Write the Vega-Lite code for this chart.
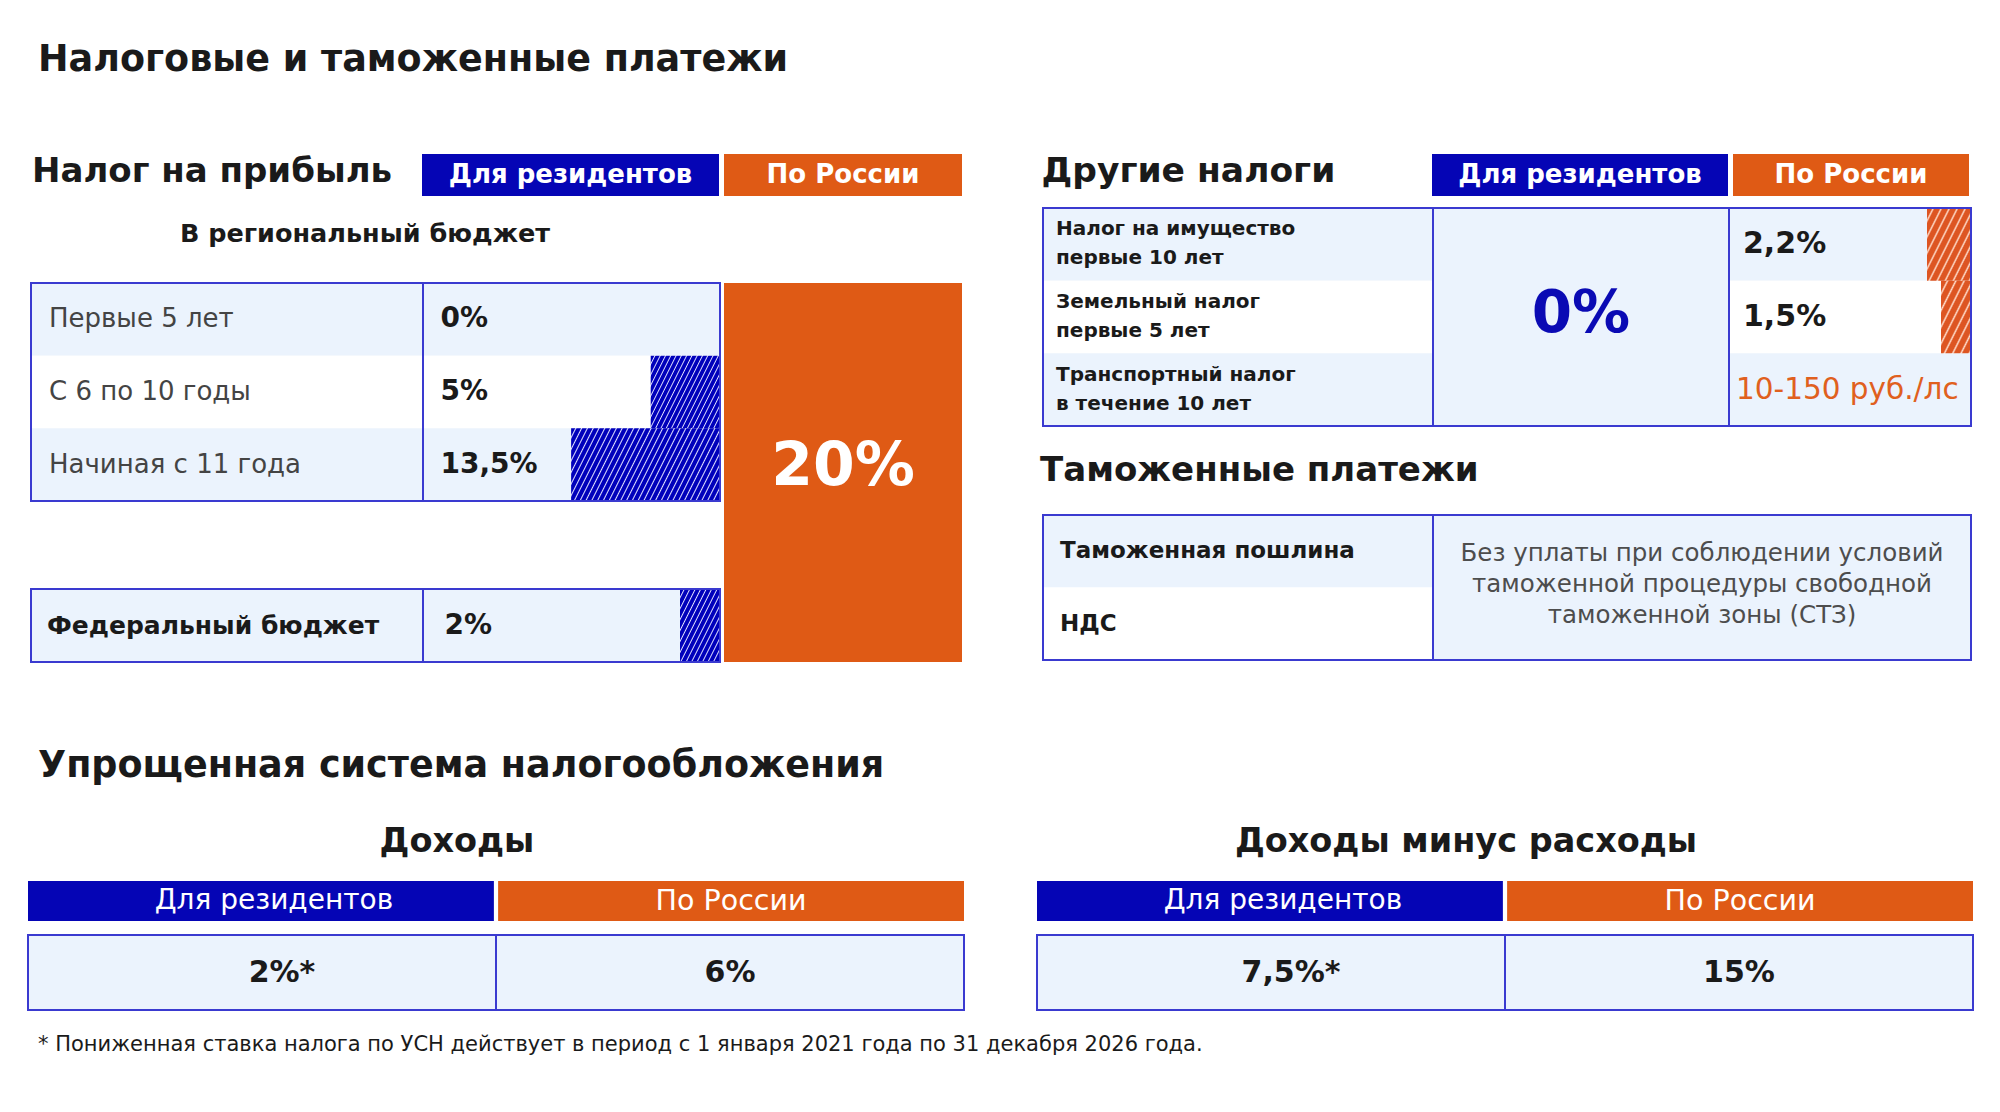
{
"$schema": "https://vega.github.io/schema/vega-lite/v6.json",
"background": "white",
"padding": 0,
"spacing": 0,
"config": {"view": {"stroke": null}, "font": "DejaVu Sans"},
"datasets": {
  "profitRegional": [
    {"period": "Первые 5 лет", "rate": 0, "label": "0%"},
    {"period": "С 6 по 10 годы", "rate": 5, "label": "5%"},
    {"period": "Начиная с 11 года", "rate": 13.5, "label": "13,5%"}
  ],
  "profitFederal": [{"period": "Федеральный бюджет", "rate": 2, "label": "2%"}],
  "profitRussia": [{"rate": 20, "label": "20%"}],
  "otherTaxes": [
    {"tax": "Налог на имущество", "term": "первые 10 лет", "resident": 0, "russia": 2.2, "russiaLabel": "2,2%"},
    {"tax": "Земельный налог", "term": "первые 5 лет", "resident": 0, "russia": 1.5, "russiaLabel": "1,5%"},
    {"tax": "Транспортный налог", "term": "в течение 10 лет", "resident": 0, "russia": null, "russiaLabel": "10-150 руб./лс"}
  ],
  "customs": [{"payment": "Таможенная пошлина"}, {"payment": "НДС"}],
  "customsNote": [{"note": "Без уплаты при соблюдении условий\nтаможенной процедуры свободной\nтаможенной зоны (СТЗ)"}],
  "usn": [
    {"regime": "Доходы", "group": "Для резидентов", "label": "2%*"},
    {"regime": "Доходы", "group": "По России", "label": "6%"},
    {"regime": "Доходы минус расходы", "group": "Для резидентов", "label": "7,5%*"},
    {"regime": "Доходы минус расходы", "group": "По России", "label": "15%"}
  ]
},
"vconcat": [
  {"width": 2000, "height": 154, "data": {"values": [{"t": "Налоговые и таможенные платежи"}]},
   "mark": {"type": "text", "align": "left", "dx": -962, "dy": -17, "fontSize": 36.5, "fontWeight": "bold", "color": "#1a1a1a"},
   "encoding": {"text": {"field": "t"}}},
  {"hconcat": [
    {"vconcat": [
      {"hconcat": [
        {"width": 422, "height": 42, "data": {"values": [{"t": "Налог на прибыль"}]},
         "mark": {"type": "text", "align": "left", "dx": -179, "dy": -3, "fontSize": 34, "fontWeight": "bold", "color": "#1a1a1a"},
         "encoding": {"text": {"field": "t"}}},
        {"width": 297, "height": 42, "view": {"fill": "#0505b5"}, "data": {"values": [{"t": "Для резидентов"}]},
         "mark": {"type": "text", "fontSize": 26, "fontWeight": "bold", "color": "#ffffff"},
         "encoding": {"text": {"field": "t"}}},
        {"width": 5, "height": 42, "data": {"values": []}, "mark": "point"},
        {"width": 238, "height": 42, "view": {"fill": "#df5a15"}, "data": {"values": [{"t": "По России"}]},
         "mark": {"type": "text", "fontSize": 26, "fontWeight": "bold", "color": "#ffffff"},
         "encoding": {"text": {"field": "t"}}}
      ], "spacing": 0, "bounds": "flush"},
      {"width": 730, "height": 86, "data": {"values": [{"t": "В региональный бюджет"}]},
       "mark": {"type": "text", "dy": -5, "fontSize": 25.5, "fontWeight": "bold", "color": "#1a1a1a"},
       "encoding": {"text": {"field": "t"}}},
      {"hconcat": [
        {"width": 30, "height": 379, "data": {"values": []}, "mark": "point"},
        {"vconcat": [
          {"hconcat": [
            {"width": 392, "height": 218, "data": {"name": "profitRegional"}, "layer": [
              {"mark": {"type": "rect"}, "encoding": {
                "y": {"field": "period", "type": "nominal", "scale": {"domain": ["Первые 5 лет", "С 6 по 10 годы", "Начиная с 11 года"], "paddingInner": 0, "paddingOuter": 0}, "axis": null},
                "color": {"condition": {"test": "datum.period === 'С 6 по 10 годы'", "value": "#ffffff"}, "value": "#ebf3fd"}}},
              {"mark": {"type": "text", "align": "left", "dx": -178, "fontSize": 26, "color": "#444444"}, "encoding": {
                "y": {"field": "period", "type": "nominal", "scale": {"domain": ["Первые 5 лет", "С 6 по 10 годы", "Начиная с 11 года"], "paddingInner": 0, "paddingOuter": 0}, "axis": null},
                "text": {"field": "period"}}},
              {"data": {"values": [{}]}, "mark": {"type": "rect", "fillOpacity": 0, "stroke": "#3a3ad0", "strokeWidth": 2}, "encoding": {}}
            ]},
            {"width": 297, "height": 218, "data": {"name": "profitRegional"}, "layer": [
              {"mark": {"type": "rect"}, "encoding": {
                "y": {"field": "period", "type": "nominal", "scale": {"domain": ["Первые 5 лет", "С 6 по 10 годы", "Начиная с 11 года"], "paddingInner": 0, "paddingOuter": 0}, "axis": null},
                "color": {"condition": {"test": "datum.period === 'С 6 по 10 годы'", "value": "#ffffff"}, "value": "#ebf3fd"}}},
              {"transform": [{"filter": "datum.rate === 5"}],
               "mark": {"type": "bar", "fill": {"gradient": "linear", "x1": 0, "y1": 0, "x2": 1.196, "y2": 0.627, "stops": [
                 {"offset": 0, "color": "#00b"}, {"offset": 0.03, "color": "#00b"}, {"offset": 0.04, "color": "#ddf"},
                 {"offset": 0.05, "color": "#00b"}, {"offset": 0.08, "color": "#00b"}, {"offset": 0.09, "color": "#ddf"},
                 {"offset": 0.1, "color": "#00b"}, {"offset": 0.13, "color": "#00b"}, {"offset": 0.14, "color": "#ddf"},
                 {"offset": 0.15, "color": "#00b"}, {"offset": 0.18, "color": "#00b"}, {"offset": 0.19, "color": "#ddf"},
                 {"offset": 0.2, "color": "#00b"}, {"offset": 0.23, "color": "#00b"}, {"offset": 0.24, "color": "#ddf"},
                 {"offset": 0.25, "color": "#00b"}, {"offset": 0.28, "color": "#00b"}, {"offset": 0.29, "color": "#ddf"},
                 {"offset": 0.3, "color": "#00b"}, {"offset": 0.33, "color": "#00b"}, {"offset": 0.34, "color": "#ddf"},
                 {"offset": 0.35, "color": "#00b"}, {"offset": 0.38, "color": "#00b"}, {"offset": 0.39, "color": "#ddf"},
                 {"offset": 0.4, "color": "#00b"}, {"offset": 0.43, "color": "#00b"}, {"offset": 0.44, "color": "#ddf"},
                 {"offset": 0.45, "color": "#00b"}, {"offset": 0.48, "color": "#00b"}, {"offset": 0.49, "color": "#ddf"},
                 {"offset": 0.5, "color": "#00b"}, {"offset": 0.53, "color": "#00b"}, {"offset": 0.54, "color": "#ddf"},
                 {"offset": 0.55, "color": "#00b"}, {"offset": 0.58, "color": "#00b"}, {"offset": 0.59, "color": "#ddf"},
                 {"offset": 0.6, "color": "#00b"}, {"offset": 0.63, "color": "#00b"}, {"offset": 0.64, "color": "#ddf"},
                 {"offset": 0.65, "color": "#00b"}, {"offset": 0.68, "color": "#00b"}, {"offset": 0.69, "color": "#ddf"},
                 {"offset": 0.7, "color": "#00b"}, {"offset": 0.73, "color": "#00b"}, {"offset": 0.74, "color": "#ddf"},
                 {"offset": 0.75, "color": "#00b"}, {"offset": 0.78, "color": "#00b"}, {"offset": 0.79, "color": "#ddf"},
                 {"offset": 0.8, "color": "#00b"}, {"offset": 0.83, "color": "#00b"}, {"offset": 0.84, "color": "#ddf"},
                 {"offset": 0.85, "color": "#00b"}, {"offset": 0.88, "color": "#00b"}, {"offset": 0.89, "color": "#ddf"},
                 {"offset": 0.9, "color": "#00b"}, {"offset": 0.93, "color": "#00b"}, {"offset": 0.94, "color": "#ddf"},
                 {"offset": 0.95, "color": "#00b"}, {"offset": 0.98, "color": "#00b"}, {"offset": 0.99, "color": "#ddf"},
                 {"offset": 1, "color": "#00b"}]}},
               "encoding": {
                 "y": {"field": "period", "type": "nominal", "scale": {"domain": ["Первые 5 лет", "С 6 по 10 годы", "Начиная с 11 года"], "paddingInner": 0, "paddingOuter": 0}, "axis": null},
                 "x": {"field": "rate", "type": "quantitative", "scale": {"type": "pow", "exponent": 0.77, "domain": [0, 33.1], "nice": false, "reverse": true}, "axis": null}}},
              {"transform": [{"filter": "datum.rate === 13.5"}],
               "mark": {"type": "bar", "fill": {"gradient": "linear", "x1": 0, "y1": 0, "x2": 1.175, "y2": 0.287, "stops": [
                 {"offset": 0, "color": "#00b"}, {"offset": 0.0188, "color": "#00b"}, {"offset": 0.025, "color": "#ddf"},
                 {"offset": 0.0313, "color": "#00b"}, {"offset": 0.05, "color": "#00b"}, {"offset": 0.0563, "color": "#ddf"},
                 {"offset": 0.0625, "color": "#00b"}, {"offset": 0.0813, "color": "#00b"}, {"offset": 0.0875, "color": "#ddf"},
                 {"offset": 0.0938, "color": "#00b"}, {"offset": 0.1125, "color": "#00b"}, {"offset": 0.1188, "color": "#ddf"},
                 {"offset": 0.125, "color": "#00b"}, {"offset": 0.1438, "color": "#00b"}, {"offset": 0.15, "color": "#ddf"},
                 {"offset": 0.1563, "color": "#00b"}, {"offset": 0.175, "color": "#00b"}, {"offset": 0.1813, "color": "#ddf"},
                 {"offset": 0.1875, "color": "#00b"}, {"offset": 0.2063, "color": "#00b"}, {"offset": 0.2125, "color": "#ddf"},
                 {"offset": 0.2188, "color": "#00b"}, {"offset": 0.2375, "color": "#00b"}, {"offset": 0.2438, "color": "#ddf"},
                 {"offset": 0.25, "color": "#00b"}, {"offset": 0.2688, "color": "#00b"}, {"offset": 0.275, "color": "#ddf"},
                 {"offset": 0.2813, "color": "#00b"}, {"offset": 0.3, "color": "#00b"}, {"offset": 0.3063, "color": "#ddf"},
                 {"offset": 0.3125, "color": "#00b"}, {"offset": 0.3313, "color": "#00b"}, {"offset": 0.3375, "color": "#ddf"},
                 {"offset": 0.3438, "color": "#00b"}, {"offset": 0.3625, "color": "#00b"}, {"offset": 0.3688, "color": "#ddf"},
                 {"offset": 0.375, "color": "#00b"}, {"offset": 0.3938, "color": "#00b"}, {"offset": 0.4, "color": "#ddf"},
                 {"offset": 0.4063, "color": "#00b"}, {"offset": 0.425, "color": "#00b"}, {"offset": 0.4313, "color": "#ddf"},
                 {"offset": 0.4375, "color": "#00b"}, {"offset": 0.4563, "color": "#00b"}, {"offset": 0.4625, "color": "#ddf"},
                 {"offset": 0.4688, "color": "#00b"}, {"offset": 0.4875, "color": "#00b"}, {"offset": 0.4938, "color": "#ddf"},
                 {"offset": 0.5, "color": "#00b"}, {"offset": 0.5188, "color": "#00b"}, {"offset": 0.525, "color": "#ddf"},
                 {"offset": 0.5313, "color": "#00b"}, {"offset": 0.55, "color": "#00b"}, {"offset": 0.5563, "color": "#ddf"},
                 {"offset": 0.5625, "color": "#00b"}, {"offset": 0.5813, "color": "#00b"}, {"offset": 0.5875, "color": "#ddf"},
                 {"offset": 0.5938, "color": "#00b"}, {"offset": 0.6125, "color": "#00b"}, {"offset": 0.6188, "color": "#ddf"},
                 {"offset": 0.625, "color": "#00b"}, {"offset": 0.6438, "color": "#00b"}, {"offset": 0.65, "color": "#ddf"},
                 {"offset": 0.6563, "color": "#00b"}, {"offset": 0.675, "color": "#00b"}, {"offset": 0.6813, "color": "#ddf"},
                 {"offset": 0.6875, "color": "#00b"}, {"offset": 0.7063, "color": "#00b"}, {"offset": 0.7125, "color": "#ddf"},
                 {"offset": 0.7188, "color": "#00b"}, {"offset": 0.7375, "color": "#00b"}, {"offset": 0.7438, "color": "#ddf"},
                 {"offset": 0.75, "color": "#00b"}, {"offset": 0.7688, "color": "#00b"}, {"offset": 0.775, "color": "#ddf"},
                 {"offset": 0.7813, "color": "#00b"}, {"offset": 0.8, "color": "#00b"}, {"offset": 0.8063, "color": "#ddf"},
                 {"offset": 0.8125, "color": "#00b"}, {"offset": 0.8313, "color": "#00b"}, {"offset": 0.8375, "color": "#ddf"},
                 {"offset": 0.8438, "color": "#00b"}, {"offset": 0.8625, "color": "#00b"}, {"offset": 0.8688, "color": "#ddf"},
                 {"offset": 0.875, "color": "#00b"}, {"offset": 0.8938, "color": "#00b"}, {"offset": 0.9, "color": "#ddf"},
                 {"offset": 0.9063, "color": "#00b"}, {"offset": 0.925, "color": "#00b"}, {"offset": 0.9313, "color": "#ddf"},
                 {"offset": 0.9375, "color": "#00b"}, {"offset": 0.9563, "color": "#00b"}, {"offset": 0.9625, "color": "#ddf"},
                 {"offset": 0.9688, "color": "#00b"}, {"offset": 0.9875, "color": "#00b"}, {"offset": 0.9938, "color": "#ddf"},
                 {"offset": 1, "color": "#00b"}]}},
               "encoding": {
                 "y": {"field": "period", "type": "nominal", "scale": {"domain": ["Первые 5 лет", "С 6 по 10 годы", "Начиная с 11 года"], "paddingInner": 0, "paddingOuter": 0}, "axis": null},
                 "x": {"field": "rate", "type": "quantitative", "scale": {"type": "pow", "exponent": 0.77, "domain": [0, 33.1], "nice": false, "reverse": true}, "axis": null}}},
              {"mark": {"type": "text", "align": "left", "dx": -131, "fontSize": 28, "fontWeight": "bold", "color": "#1a1a1a"}, "encoding": {
                "y": {"field": "period", "type": "nominal", "scale": {"domain": ["Первые 5 лет", "С 6 по 10 годы", "Начиная с 11 года"], "paddingInner": 0, "paddingOuter": 0}, "axis": null},
                "text": {"field": "label"}}},
              {"data": {"values": [{}]}, "mark": {"type": "rect", "fillOpacity": 0, "stroke": "#3a3ad0", "strokeWidth": 2}, "encoding": {}}
            ]}
          ], "spacing": 0, "bounds": "flush"},
          {"width": 689, "height": 86, "data": {"values": []}, "mark": "point"},
          {"hconcat": [
            {"width": 392, "height": 73, "data": {"name": "profitFederal"}, "layer": [
              {"mark": {"type": "rect", "fill": "#ebf3fd"}, "encoding": {
                "y": {"field": "period", "type": "nominal", "scale": {"paddingInner": 0, "paddingOuter": 0}, "axis": null}}},
              {"mark": {"type": "text", "align": "left", "dx": -180, "fontSize": 25, "fontWeight": "bold", "color": "#1a1a1a"}, "encoding": {
                "y": {"field": "period", "type": "nominal", "scale": {"paddingInner": 0, "paddingOuter": 0}, "axis": null},
                "text": {"field": "period"}}},
              {"data": {"values": [{}]}, "mark": {"type": "rect", "fillOpacity": 0, "stroke": "#3a3ad0", "strokeWidth": 2}, "encoding": {}}
            ]},
            {"width": 297, "height": 73, "data": {"name": "profitFederal"}, "layer": [
              {"mark": {"type": "rect", "fill": "#ebf3fd"}, "encoding": {
                "y": {"field": "period", "type": "nominal", "scale": {"paddingInner": 0, "paddingOuter": 0}, "axis": null}}},
              {"mark": {"type": "bar", "fill": {"gradient": "linear", "x1": 0, "y1": 0, "x2": 1.043, "y2": 0.952, "stops": [
                 {"offset": 0, "color": "#00b"}, {"offset": 0.0429, "color": "#00b"}, {"offset": 0.0571, "color": "#ddf"},
                 {"offset": 0.0714, "color": "#00b"}, {"offset": 0.1143, "color": "#00b"}, {"offset": 0.1286, "color": "#ddf"},
                 {"offset": 0.1429, "color": "#00b"}, {"offset": 0.1857, "color": "#00b"}, {"offset": 0.2, "color": "#ddf"},
                 {"offset": 0.2143, "color": "#00b"}, {"offset": 0.2571, "color": "#00b"}, {"offset": 0.2714, "color": "#ddf"},
                 {"offset": 0.2857, "color": "#00b"}, {"offset": 0.3286, "color": "#00b"}, {"offset": 0.3429, "color": "#ddf"},
                 {"offset": 0.3571, "color": "#00b"}, {"offset": 0.4, "color": "#00b"}, {"offset": 0.4143, "color": "#ddf"},
                 {"offset": 0.4286, "color": "#00b"}, {"offset": 0.4714, "color": "#00b"}, {"offset": 0.4857, "color": "#ddf"},
                 {"offset": 0.5, "color": "#00b"}, {"offset": 0.5429, "color": "#00b"}, {"offset": 0.5571, "color": "#ddf"},
                 {"offset": 0.5714, "color": "#00b"}, {"offset": 0.6143, "color": "#00b"}, {"offset": 0.6286, "color": "#ddf"},
                 {"offset": 0.6429, "color": "#00b"}, {"offset": 0.6857, "color": "#00b"}, {"offset": 0.7, "color": "#ddf"},
                 {"offset": 0.7143, "color": "#00b"}, {"offset": 0.7571, "color": "#00b"}, {"offset": 0.7714, "color": "#ddf"},
                 {"offset": 0.7857, "color": "#00b"}, {"offset": 0.8286, "color": "#00b"}, {"offset": 0.8429, "color": "#ddf"},
                 {"offset": 0.8571, "color": "#00b"}, {"offset": 0.9, "color": "#00b"}, {"offset": 0.9143, "color": "#ddf"},
                 {"offset": 0.9286, "color": "#00b"}, {"offset": 0.9714, "color": "#00b"}, {"offset": 0.9857, "color": "#ddf"},
                 {"offset": 1, "color": "#00b"}]}},
               "encoding": {
                 "y": {"field": "period", "type": "nominal", "scale": {"paddingInner": 0, "paddingOuter": 0}, "axis": null},
                 "x": {"field": "rate", "type": "quantitative", "scale": {"domain": [0, 14.85], "nice": false, "reverse": true}, "axis": null}}},
              {"mark": {"type": "text", "align": "left", "dx": -127, "fontSize": 28, "fontWeight": "bold", "color": "#1a1a1a"}, "encoding": {
                "y": {"field": "period", "type": "nominal", "scale": {"paddingInner": 0, "paddingOuter": 0}, "axis": null},
                "text": {"field": "label"}}},
              {"data": {"values": [{}]}, "mark": {"type": "rect", "fillOpacity": 0, "stroke": "#3a3ad0", "strokeWidth": 2}, "encoding": {}}
            ]}
          ], "spacing": 0, "bounds": "flush"}
        ], "spacing": 0},
        {"width": 3, "height": 379, "data": {"values": []}, "mark": "point"},
        {"width": 238, "height": 379, "view": {"fill": "#df5a15"}, "data": {"name": "profitRussia"},
         "mark": {"type": "text", "dy": -6, "fontSize": 60, "fontWeight": "bold", "color": "#ffffff"},
         "encoding": {"text": {"field": "label"}}}
      ], "spacing": 0}
    ], "spacing": 0},
    {"vconcat": [
      {"hconcat": [
        {"width": 391, "height": 42, "data": {"values": [{"t": "Другие налоги"}]},
         "mark": {"type": "text", "align": "left", "dx": -195, "dy": -3, "fontSize": 34.5, "fontWeight": "bold", "color": "#1a1a1a"},
         "encoding": {"text": {"field": "t"}}},
        {"width": 296, "height": 42, "view": {"fill": "#0505b5"}, "data": {"values": [{"t": "Для резидентов"}]},
         "mark": {"type": "text", "fontSize": 26, "fontWeight": "bold", "color": "#ffffff"},
         "encoding": {"text": {"field": "t"}}},
        {"width": 5, "height": 42, "data": {"values": []}, "mark": "point"},
        {"width": 236, "height": 42, "view": {"fill": "#df5a15"}, "data": {"values": [{"t": "По России"}]},
         "mark": {"type": "text", "fontSize": 26, "fontWeight": "bold", "color": "#ffffff"},
         "encoding": {"text": {"field": "t"}}}
      ], "spacing": 0, "bounds": "flush"},
      {"width": 930, "height": 11, "data": {"values": []}, "mark": "point"},
      {"hconcat": [
        {"width": 2, "height": 218, "data": {"values": []}, "mark": "point"},
        {"width": 390, "height": 218, "data": {"name": "otherTaxes"}, "layer": [
          {"mark": {"type": "rect"}, "encoding": {
            "y": {"field": "tax", "type": "nominal", "scale": {"domain": ["Налог на имущество", "Земельный налог", "Транспортный налог"], "paddingInner": 0, "paddingOuter": 0}, "axis": null},
            "color": {"condition": {"test": "datum.tax === 'Земельный налог'", "value": "#ffffff"}, "value": "#ebf3fd"}}},
          {"mark": {"type": "text", "align": "left", "dx": -182, "dy": -15, "fontSize": 20, "fontWeight": "bold", "color": "#1a1a1a"}, "encoding": {
            "y": {"field": "tax", "type": "nominal", "scale": {"domain": ["Налог на имущество", "Земельный налог", "Транспортный налог"], "paddingInner": 0, "paddingOuter": 0}, "axis": null},
            "text": {"field": "tax"}}},
          {"mark": {"type": "text", "align": "left", "dx": -182, "dy": 14, "fontSize": 20, "fontWeight": "bold", "color": "#1a1a1a"}, "encoding": {
            "y": {"field": "tax", "type": "nominal", "scale": {"domain": ["Налог на имущество", "Земельный налог", "Транспортный налог"], "paddingInner": 0, "paddingOuter": 0}, "axis": null},
            "text": {"field": "term"}}},
          {"data": {"values": [{}]}, "mark": {"type": "rect", "fillOpacity": 0, "stroke": "#3a3ad0", "strokeWidth": 2}, "encoding": {}}
        ]},
        {"width": 296, "height": 218, "data": {"name": "otherTaxes"}, "layer": [
          {"data": {"values": [{}]}, "mark": {"type": "rect", "fill": "#ebf3fd"}, "encoding": {}},
          {"transform": [{"aggregate": [{"op": "max", "field": "resident", "as": "resident"}]}],
           "mark": {"type": "text", "dy": -2, "fontSize": 58, "fontWeight": "bold", "color": "#0a0ab4"},
           "encoding": {"text": {"field": "resident", "type": "quantitative", "format": ".0%"}}},
          {"data": {"values": [{}]}, "mark": {"type": "rect", "fillOpacity": 0, "stroke": "#3a3ad0", "strokeWidth": 2}, "encoding": {}}
        ]},
        {"width": 242, "height": 218, "data": {"name": "otherTaxes"}, "layer": [
          {"mark": {"type": "rect"}, "encoding": {
            "y": {"field": "tax", "type": "nominal", "scale": {"domain": ["Налог на имущество", "Земельный налог", "Транспортный налог"], "paddingInner": 0, "paddingOuter": 0}, "axis": null},
            "color": {"condition": {"test": "datum.tax === 'Земельный налог'", "value": "#ffffff"}, "value": "#ebf3fd"}}},
          {"transform": [{"filter": "datum.tax === 'Налог на имущество'"}],
           "mark": {"type": "bar", "fill": {"gradient": "linear", "x1": 0, "y1": 0, "x2": 1.085, "y2": 0.896, "stops": [
             {"offset": 0, "color": "#d52"}, {"offset": 0.06, "color": "#d52"}, {"offset": 0.08, "color": "#fdc"},
             {"offset": 0.1, "color": "#d52"}, {"offset": 0.16, "color": "#d52"}, {"offset": 0.18, "color": "#fdc"},
             {"offset": 0.2, "color": "#d52"}, {"offset": 0.26, "color": "#d52"}, {"offset": 0.28, "color": "#fdc"},
             {"offset": 0.3, "color": "#d52"}, {"offset": 0.36, "color": "#d52"}, {"offset": 0.38, "color": "#fdc"},
             {"offset": 0.4, "color": "#d52"}, {"offset": 0.46, "color": "#d52"}, {"offset": 0.48, "color": "#fdc"},
             {"offset": 0.5, "color": "#d52"}, {"offset": 0.56, "color": "#d52"}, {"offset": 0.58, "color": "#fdc"},
             {"offset": 0.6, "color": "#d52"}, {"offset": 0.66, "color": "#d52"}, {"offset": 0.68, "color": "#fdc"},
             {"offset": 0.7, "color": "#d52"}, {"offset": 0.76, "color": "#d52"}, {"offset": 0.78, "color": "#fdc"},
             {"offset": 0.8, "color": "#d52"}, {"offset": 0.86, "color": "#d52"}, {"offset": 0.88, "color": "#fdc"},
             {"offset": 0.9, "color": "#d52"}, {"offset": 0.96, "color": "#d52"}, {"offset": 0.98, "color": "#fdc"},
             {"offset": 1, "color": "#d52"}]}},
           "encoding": {
             "y": {"field": "tax", "type": "nominal", "scale": {"domain": ["Налог на имущество", "Земельный налог", "Транспортный налог"], "paddingInner": 0, "paddingOuter": 0}, "axis": null},
             "x": {"field": "russia", "type": "quantitative", "scale": {"domain": [0, 12.1], "nice": false, "reverse": true}, "axis": null}}},
          {"transform": [{"filter": "datum.tax === 'Земельный налог'"}],
           "mark": {"type": "bar", "fill": {"gradient": "linear", "x1": 0, "y1": 0, "x2": 0.896, "y2": 1.086, "stops": [
             {"offset": 0, "color": "#d52"}, {"offset": 0.075, "color": "#d52"}, {"offset": 0.1, "color": "#fdc"},
             {"offset": 0.125, "color": "#d52"}, {"offset": 0.2, "color": "#d52"}, {"offset": 0.225, "color": "#fdc"},
             {"offset": 0.25, "color": "#d52"}, {"offset": 0.325, "color": "#d52"}, {"offset": 0.35, "color": "#fdc"},
             {"offset": 0.375, "color": "#d52"}, {"offset": 0.45, "color": "#d52"}, {"offset": 0.475, "color": "#fdc"},
             {"offset": 0.5, "color": "#d52"}, {"offset": 0.575, "color": "#d52"}, {"offset": 0.6, "color": "#fdc"},
             {"offset": 0.625, "color": "#d52"}, {"offset": 0.7, "color": "#d52"}, {"offset": 0.725, "color": "#fdc"},
             {"offset": 0.75, "color": "#d52"}, {"offset": 0.825, "color": "#d52"}, {"offset": 0.85, "color": "#fdc"},
             {"offset": 0.875, "color": "#d52"}, {"offset": 0.95, "color": "#d52"}, {"offset": 0.975, "color": "#fdc"},
             {"offset": 1, "color": "#d52"}]}},
           "encoding": {
             "y": {"field": "tax", "type": "nominal", "scale": {"domain": ["Налог на имущество", "Земельный налог", "Транспортный налог"], "paddingInner": 0, "paddingOuter": 0}, "axis": null},
             "x": {"field": "russia", "type": "quantitative", "scale": {"domain": [0, 12.1], "nice": false, "reverse": true}, "axis": null}}},
          {"transform": [{"filter": "datum.russia != null"}],
           "mark": {"type": "text", "align": "left", "dx": -107, "fontSize": 30, "fontWeight": "bold", "color": "#1a1a1a"}, "encoding": {
            "y": {"field": "tax", "type": "nominal", "scale": {"domain": ["Налог на имущество", "Земельный налог", "Транспортный налог"], "paddingInner": 0, "paddingOuter": 0}, "axis": null},
            "text": {"field": "russiaLabel"}}},
          {"transform": [{"filter": "datum.russia == null"}],
           "mark": {"type": "text", "align": "left", "dx": -114, "fontSize": 29.5, "color": "#e0601e"}, "encoding": {
            "y": {"field": "tax", "type": "nominal", "scale": {"domain": ["Налог на имущество", "Земельный налог", "Транспортный налог"], "paddingInner": 0, "paddingOuter": 0}, "axis": null},
            "text": {"field": "russiaLabel"}}},
          {"data": {"values": [{}]}, "mark": {"type": "rect", "fillOpacity": 0, "stroke": "#3a3ad0", "strokeWidth": 2}, "encoding": {}}
        ]}
      ], "spacing": 0, "bounds": "flush"},
      {"width": 930, "height": 87, "data": {"values": [{"t": "Таможенные платежи"}]},
       "mark": {"type": "text", "align": "left", "dx": -466, "fontSize": 34, "fontWeight": "bold", "color": "#1a1a1a"},
       "encoding": {"text": {"field": "t"}}},
      {"hconcat": [
        {"width": 2, "height": 145, "data": {"values": []}, "mark": "point"},
        {"width": 390, "height": 145, "data": {"name": "customs"}, "layer": [
          {"mark": {"type": "rect"}, "encoding": {
            "y": {"field": "payment", "type": "nominal", "scale": {"domain": ["Таможенная пошлина", "НДС"], "paddingInner": 0, "paddingOuter": 0}, "axis": null},
            "color": {"condition": {"test": "datum.payment === 'НДС'", "value": "#ffffff"}, "value": "#ebf3fd"}}},
          {"mark": {"type": "text", "align": "left", "dx": -178, "fontSize": 23, "fontWeight": "bold", "color": "#1a1a1a"}, "encoding": {
            "y": {"field": "payment", "type": "nominal", "scale": {"domain": ["Таможенная пошлина", "НДС"], "paddingInner": 0, "paddingOuter": 0}, "axis": null},
            "text": {"field": "payment"}}},
          {"data": {"values": [{}]}, "mark": {"type": "rect", "fillOpacity": 0, "stroke": "#3a3ad0", "strokeWidth": 2}, "encoding": {}}
        ]},
        {"width": 538, "height": 145, "data": {"name": "customsNote"}, "layer": [
          {"mark": {"type": "rect", "fill": "#ebf3fd"}, "encoding": {}},
          {"mark": {"type": "text", "lineBreak": "\n", "lineHeight": 31, "dy": -34, "fontSize": 24.5, "color": "#4d4d4d"}, "encoding": {"text": {"field": "note"}}},
          {"mark": {"type": "rect", "fillOpacity": 0, "stroke": "#3a3ad0", "strokeWidth": 2}, "encoding": {}}
        ]}
      ], "spacing": 0, "bounds": "flush"}
    ], "spacing": 0}
  ], "spacing": 78},
  {"vconcat": [
    {"width": 2000, "height": 132, "data": {"values": [{"t": "Упрощенная система налогообложения"}]},
     "mark": {"type": "text", "align": "left", "dx": -962, "dy": 37, "fontSize": 36.5, "fontWeight": "bold", "color": "#1a1a1a"},
     "encoding": {"text": {"field": "t"}}},
    {"hconcat": [
      {"width": 28, "height": 86, "data": {"values": []}, "mark": "point"},
      {"width": 936, "height": 86, "data": {"name": "usn"}, "transform": [{"filter": "datum.regime === 'Доходы' && datum.group === 'По России'"}],
       "mark": {"type": "text", "dx": -39, "dy": 4, "fontSize": 33.5, "fontWeight": "bold", "color": "#1a1a1a"},
       "encoding": {"text": {"field": "regime"}}},
      {"width": 73, "height": 86, "data": {"values": []}, "mark": "point"},
      {"width": 936, "height": 86, "data": {"name": "usn"}, "transform": [{"filter": "datum.regime === 'Доходы минус расходы' && datum.group === 'По России'"}],
       "mark": {"type": "text", "dx": -39, "dy": 4, "fontSize": 33.5, "fontWeight": "bold", "color": "#1a1a1a"},
       "encoding": {"text": {"field": "regime"}}}
    ], "spacing": 0, "bounds": "flush"},
    {"hconcat": [
      {"width": 28, "height": 40, "data": {"values": []}, "mark": "point"},
      {"width": 936, "height": 40, "data": {"name": "usn"}, "transform": [{"filter": "datum.regime === 'Доходы'"}], "layer": [
        {"mark": {"type": "rect"}, "encoding": {
          "x": {"field": "group", "type": "nominal", "scale": {"domain": ["Для резидентов", "По России"], "paddingInner": 0.009, "paddingOuter": 0}, "axis": null},
          "color": {"field": "group", "type": "nominal", "scale": {"domain": ["Для резидентов", "По России"], "range": ["#0505b5", "#df5a15"]}, "legend": null}}},
        {"transform": [{"filter": "datum.group === 'Для резидентов'"}], "mark": {"type": "text", "dx": 13, "fontSize": 28, "color": "#ffffff"}, "encoding": {
          "x": {"field": "group", "type": "nominal", "scale": {"domain": ["Для резидентов", "По России"], "paddingInner": 0.009, "paddingOuter": 0}, "axis": null},
          "text": {"field": "group"}}},
        {"transform": [{"filter": "datum.group === 'По России'"}], "mark": {"type": "text", "fontSize": 28.5, "color": "#ffffff"}, "encoding": {
          "x": {"field": "group", "type": "nominal", "scale": {"domain": ["Для резидентов", "По России"], "paddingInner": 0.009, "paddingOuter": 0}, "axis": null},
          "text": {"field": "group"}}}
      ]},
      {"width": 73, "height": 40, "data": {"values": []}, "mark": "point"},
      {"width": 936, "height": 40, "data": {"name": "usn"}, "transform": [{"filter": "datum.regime === 'Доходы минус расходы'"}], "layer": [
        {"mark": {"type": "rect"}, "encoding": {
          "x": {"field": "group", "type": "nominal", "scale": {"domain": ["Для резидентов", "По России"], "paddingInner": 0.009, "paddingOuter": 0}, "axis": null},
          "color": {"field": "group", "type": "nominal", "scale": {"domain": ["Для резидентов", "По России"], "range": ["#0505b5", "#df5a15"]}, "legend": null}}},
        {"transform": [{"filter": "datum.group === 'Для резидентов'"}], "mark": {"type": "text", "dx": 13, "fontSize": 28, "color": "#ffffff"}, "encoding": {
          "x": {"field": "group", "type": "nominal", "scale": {"domain": ["Для резидентов", "По России"], "paddingInner": 0.009, "paddingOuter": 0}, "axis": null},
          "text": {"field": "group"}}},
        {"transform": [{"filter": "datum.group === 'По России'"}], "mark": {"type": "text", "fontSize": 28.5, "color": "#ffffff"}, "encoding": {
          "x": {"field": "group", "type": "nominal", "scale": {"domain": ["Для резидентов", "По России"], "paddingInner": 0.009, "paddingOuter": 0}, "axis": null},
          "text": {"field": "group"}}}
      ]}
    ], "spacing": 0, "bounds": "flush"},
    {"width": 2000, "height": 13, "data": {"values": []}, "mark": "point"},
    {"hconcat": [
      {"width": 28, "height": 75, "data": {"values": []}, "mark": "point"},
      {"width": 936, "height": 75, "data": {"name": "usn"}, "transform": [{"filter": "datum.regime === 'Доходы'"}], "layer": [
        {"mark": {"type": "rect", "fill": "#ebf3fd", "stroke": "#3a3ad0", "strokeWidth": 2}, "encoding": {
          "x": {"field": "group", "type": "nominal", "scale": {"domain": ["Для резидентов", "По России"], "paddingInner": 0, "paddingOuter": 0}, "axis": null}}},
        {"transform": [{"filter": "datum.group === 'Для резидентов'"}], "mark": {"type": "text", "dx": 20, "fontSize": 30, "fontWeight": "bold", "color": "#1a1a1a"}, "encoding": {
          "x": {"field": "group", "type": "nominal", "scale": {"domain": ["Для резидентов", "По России"], "paddingInner": 0, "paddingOuter": 0}, "axis": null},
          "text": {"field": "label"}}},
        {"transform": [{"filter": "datum.group === 'По России'"}], "mark": {"type": "text", "fontSize": 30, "fontWeight": "bold", "color": "#1a1a1a"}, "encoding": {
          "x": {"field": "group", "type": "nominal", "scale": {"domain": ["Для резидентов", "По России"], "paddingInner": 0, "paddingOuter": 0}, "axis": null},
          "text": {"field": "label"}}}
      ]},
      {"width": 73, "height": 75, "data": {"values": []}, "mark": "point"},
      {"width": 936, "height": 75, "data": {"name": "usn"}, "transform": [{"filter": "datum.regime === 'Доходы минус расходы'"}], "layer": [
        {"mark": {"type": "rect", "fill": "#ebf3fd", "stroke": "#3a3ad0", "strokeWidth": 2}, "encoding": {
          "x": {"field": "group", "type": "nominal", "scale": {"domain": ["Для резидентов", "По России"], "paddingInner": 0, "paddingOuter": 0}, "axis": null}}},
        {"transform": [{"filter": "datum.group === 'Для резидентов'"}], "mark": {"type": "text", "dx": 20, "fontSize": 30, "fontWeight": "bold", "color": "#1a1a1a"}, "encoding": {
          "x": {"field": "group", "type": "nominal", "scale": {"domain": ["Для резидентов", "По России"], "paddingInner": 0, "paddingOuter": 0}, "axis": null},
          "text": {"field": "label"}}},
        {"transform": [{"filter": "datum.group === 'По России'"}], "mark": {"type": "text", "fontSize": 30, "fontWeight": "bold", "color": "#1a1a1a"}, "encoding": {
          "x": {"field": "group", "type": "nominal", "scale": {"domain": ["Для резидентов", "По России"], "paddingInner": 0, "paddingOuter": 0}, "axis": null},
          "text": {"field": "label"}}}
      ]}
    ], "spacing": 0, "bounds": "flush"},
    {"width": 2000, "height": 68, "data": {"values": [{"t": "* Пониженная ставка налога по УСН действует в период с 1 января 2021 года по 31 декабря 2026 года."}]},
     "mark": {"type": "text", "align": "left", "dx": -962, "fontSize": 21, "color": "#1a1a1a"},
     "encoding": {"text": {"field": "t"}}}
  ], "spacing": 0}
]
}
